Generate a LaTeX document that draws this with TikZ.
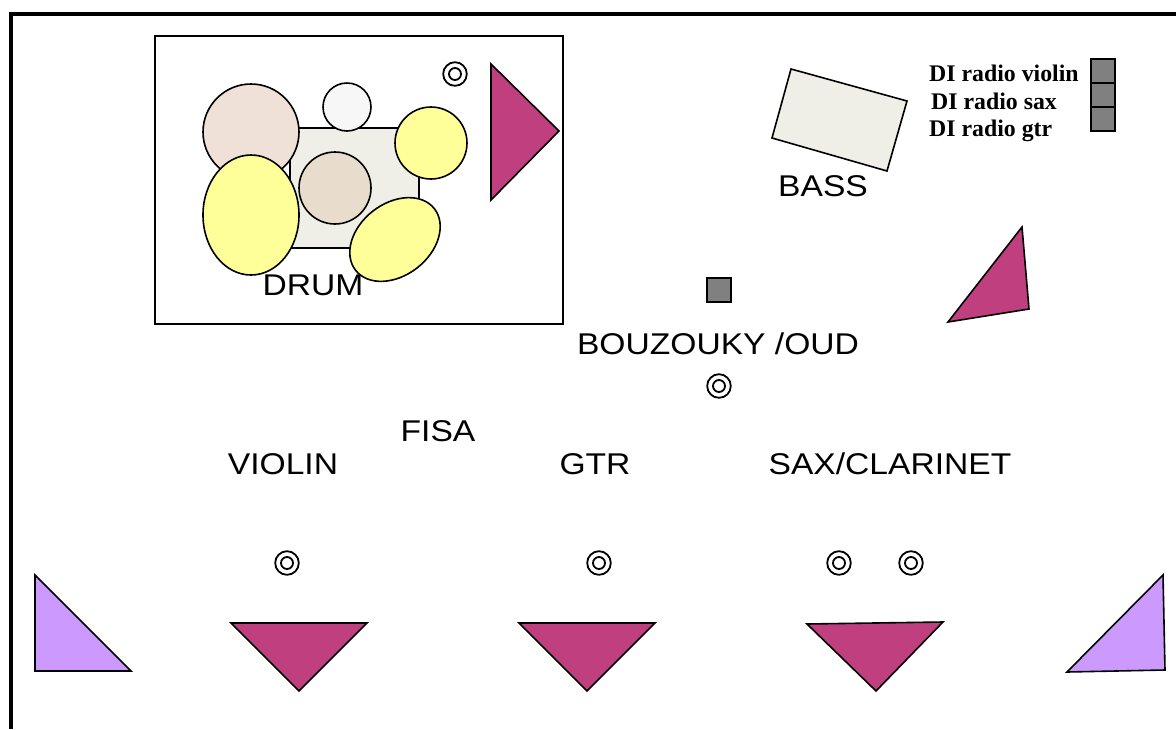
\documentclass[tikz,border=0pt]{standalone}
\usepackage{fontspec}
\setmainfont{Liberation Serif}
\newfontfamily\widefont[FakeStretch=1.12]{Liberation Sans}
\definecolor{wedgered}{HTML}{C0407F}
\definecolor{wedgelilac}{HTML}{CC99FF}
\definecolor{padyellow}{HTML}{FFFF99}
\definecolor{kitcream}{HTML}{EFEFE7}
\definecolor{kickpink}{HTML}{EFE0D8}
\definecolor{snarebeige}{HTML}{E8DCCD}
\definecolor{hatwhite}{HTML}{F7F7F7}
\tikzset{
    part/.style={draw, line width=1.6pt, line join=miter},
    wedge/.style={part, fill=wedgered},
    sidewedge/.style={part, fill=wedgelilac},
    pad/.style={part, fill=padyellow},
    box/.style={draw, line width=1.6pt, fill=gray, minimum size=24pt, inner sep=0pt},
    player/.style={font=\widefont\fontsize{30}{30}\selectfont, inner sep=0pt},
    radio/.style={font=\bfseries\fontsize{23.8}{23.8}\selectfont, anchor=base west, inner sep=0pt},
    mic/.pic={
        \draw[line width=1.8pt] (0,0) circle (11.8) (0,0) circle (6);
    }
}
\begin{document}
\begin{tikzpicture}[x=1pt, y=-1pt]
    \useasboundingbox (0,0) rectangle (1176,729);
    % stage edge
    \draw[line width=4pt, line join=miter] (11,729) -- (11,14) -- (1176,14);
    % drum riser
    \draw[line width=1.6pt] (155,36) rectangle (563,324);
    \filldraw[part, fill=kitcream] (290,128) rectangle (419,248);
    \filldraw[part, fill=kickpink] (251,132) circle (48);
    \filldraw[part, fill=hatwhite] (347,107) circle (24);
    \filldraw[part, fill=snarebeige] (335,188) circle (36);
    \filldraw[pad] (431,143) circle (36);
    \filldraw[pad] (251,215) ellipse (48 and 60);
    \filldraw[pad, rotate around={38:(395,239.5)}] (395,239.5) ellipse (50 and 36);
    \node[player] (drum) at (313,285) {DRUM};
    \path (455,74) pic {mic};
    \filldraw[wedge] (491,64) -- (559,131) -- (491,200) -- cycle;
    % bass
    \filldraw[part, fill=kitcream] (791,69) -- (907,101) -- (887,171) -- (772,138) -- cycle;
    \node[player] (bass) at (823,186) {BASS};
    % radio DI
    \node[radio] (violinradio) at (929,81) {DI radio violin};
    \node[radio] (saxradio) at (931,109) {DI radio sax};
    \node[radio] (gtrradio) at (929,136) {DI radio gtr};
    \node[box] (violinbox) at (1103,71) {};
    \node[box] (saxbox) at (1103,95) {};
    \node[box] (gtrbox) at (1103,119) {};
    \filldraw[wedge] (1022,227) -- (1029,309) -- (948,322) -- cycle;
    % front line
    \node[box] (oudbox) at (719,290) {};
    \node[player] (oud) at (718,344) {BOUZOUKY /OUD};
    \path (719,386) pic {mic};
    \node[player] (fisa) at (438,431) {FISA};
    \node[player] (violin) at (283,464) {VIOLIN};
    \node[player] (gtr) at (595,464) {GTR};
    \node[player] (sax) at (890,464) {SAX/CLARINET};
    \foreach \micx in {287,599,839,911} {
        \path (\micx,563) pic {mic};
    }
    \filldraw[wedge] (231,623) -- (367,623) -- (299,691) -- cycle;
    \filldraw[wedge] (519,623) -- (655,623) -- (587,691) -- cycle;
    \filldraw[wedge] (807,624) -- (943,622) -- (876,691) -- cycle;
    \filldraw[sidewedge] (35,575) -- (131,671) -- (35,671) -- cycle;
    \filldraw[sidewedge] (1163,575) -- (1165,670) -- (1067,672) -- cycle;
\end{tikzpicture}
\end{document}
